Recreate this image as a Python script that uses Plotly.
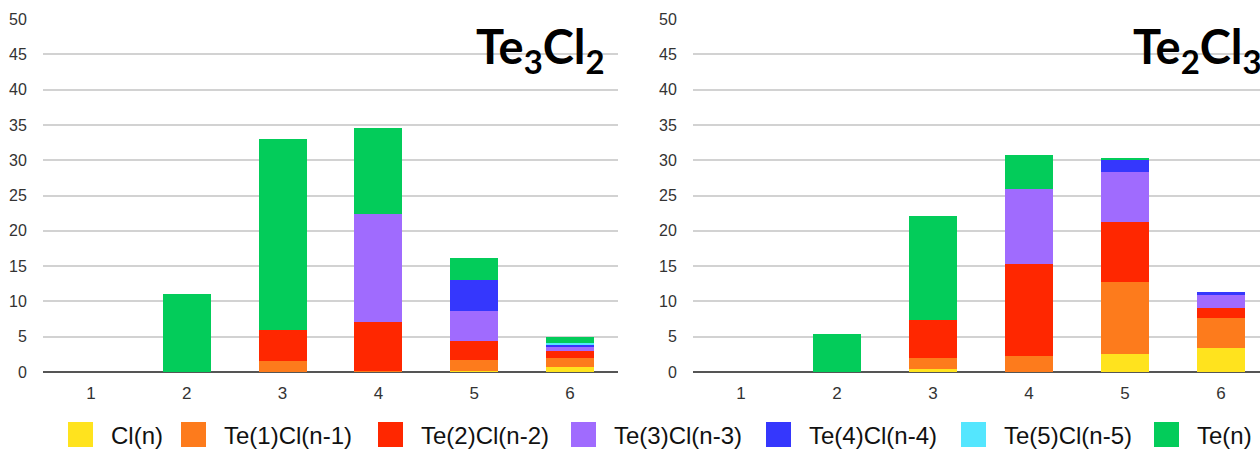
import plotly.graph_objects as go

# categories (cluster size n)
cats = [1, 2, 3, 4, 5, 6]

series_names = ["Cl(n)", "Te(1)Cl(n-1)", "Te(2)Cl(n-2)", "Te(3)Cl(n-3)",
                "Te(4)Cl(n-4)", "Te(5)Cl(n-5)", "Te(n)"]
colors = ["#FFE31E", "#FD7B1C", "#FF2700", "#A06BFE", "#3537FD", "#54E6FE", "#03CC5A"]

# Te3Cl2 (left panel)
left_cl = [0, 0, 0, 0, 0.2, 0.7]
left_te1 = [0, 0, 1.6, 0.2, 1.5, 1.25]
left_te2 = [0, 0, 4.4, 6.9, 2.7, 1.05]
left_te3 = [0, 0, 0, 15.25, 4.3, 0.6]
left_te4 = [0, 0, 0, 0, 4.4, 0.25]
left_te5 = [0, 0, 0, 0, 0, 0.25]
left_ten = [0, 11.0, 27.05, 12.2, 3.05, 0.9]

# Te2Cl3 (right panel)
right_cl = [0, 0, 0.45, 0, 2.5, 3.4]
right_te1 = [0, 0, 1.55, 2.2, 10.3, 4.2]
right_te2 = [0, 0, 5.3, 13.15, 8.5, 1.45]
right_te3 = [0, 0, 0, 10.6, 7.0, 1.8]
right_te4 = [0, 0, 0, 0, 1.8, 0.5]
right_te5 = [0, 0, 0, 0, 0, 0]
right_ten = [0, 5.45, 14.75, 4.75, 0.15, 0]

y_ticks = [0, 5, 10, 15, 20, 25, 30, 35, 40, 45, 50]

left = [left_cl, left_te1, left_te2, left_te3, left_te4, left_te5, left_ten]
right = [right_cl, right_te1, right_te2, right_te3, right_te4, right_te5, right_ten]

W, H = 1260, 450
ML, MR, MT, MB = 43, 0, 19, 78
PW = W - ML - MR


def px(x):
    # pixel x -> paper coordinate
    return (x - ML) / PW


def py(y):
    return (H - MB - y) / (H - MT - MB)


fig = go.Figure()
for name, col, vals in zip(series_names, colors, left):
    fig.add_trace(go.Bar(x=cats, y=vals, name=name, marker_color=col,
                         marker_line_width=0, width=0.5,
                         xaxis="x", yaxis="y", showlegend=False))
for name, col, vals in zip(series_names, colors, right):
    fig.add_trace(go.Bar(x=cats, y=vals, name=name, marker_color=col,
                         marker_line_width=0, width=0.5,
                         xaxis="x2", yaxis="y2", showlegend=False))

axis_font = dict(family="Liberation Sans, Arial, sans-serif", size=16, color="#333")
xcommon = dict(tickvals=cats, showgrid=False, zeroline=False, showline=False,
               ticks="outside", ticklen=6, tickcolor="rgba(0,0,0,0)",
               tickfont=dict(family="Liberation Sans, Arial, sans-serif", size=17, color="#333"),
               fixedrange=True)
ycommon = dict(range=[0, 50], tickvals=y_ticks, showgrid=True, gridcolor="#d2d2d2",
               gridwidth=2, zeroline=True, zerolinecolor="#555", zerolinewidth=2,
               showline=False, ticks="outside", ticklen=12, tickcolor="rgba(0,0,0,0)",
               tickfont=axis_font, fixedrange=True)

fig.update_layout(
    width=W, height=H,
    margin=dict(l=ML, r=MR, t=MT, b=MB),
    plot_bgcolor="white", paper_bgcolor="white",
    barmode="stack", bargap=0.5,
    xaxis=dict(domain=[0, px(618)], range=[0.5, 6.5], anchor="y", **xcommon),
    yaxis=dict(domain=[0, 1], anchor="x", **ycommon),
    xaxis2=dict(domain=[px(693), 1], range=[0.5, 0.5 + (W - 693) / 96], anchor="y2", **xcommon),
    yaxis2=dict(domain=[0, 1], anchor="x2", **ycommon),
)

# panel titles
title_font = dict(family="Lato, sans-serif", size=47, color="black", weight="bold")
fig.add_annotation(text="Te<sub>3</sub>Cl<sub>2</sub>", xref="paper", yref="paper",
                   x=px(607), y=py(16), xanchor="right", yanchor="top",
                   showarrow=False, font=title_font)
fig.add_annotation(text="Te<sub>2</sub>Cl<sub>3</sub>", xref="paper", yref="paper",
                   x=px(1264), y=py(16), xanchor="right", yanchor="top",
                   showarrow=False, font=title_font)

# legend drawn as swatches + labels
swatch_x = [68, 181, 378, 571, 766, 961, 1154]
legend_font = dict(family="Liberation Sans, Arial, sans-serif", size=24, color="#111")
for sx, name, col in zip(swatch_x, series_names, colors):
    fig.add_shape(type="rect", xref="paper", yref="paper",
                  x0=px(sx), x1=px(sx + 25), y0=py(447), y1=py(422),
                  fillcolor=col, line_width=0)
    fig.add_annotation(text=name, xref="paper", yref="paper",
                       x=px(sx + 41), y=py(435), xanchor="left", yanchor="middle",
                       showarrow=False, font=legend_font)

fig.write_html("out.html", config={"displayModeBar": False},
               post_script="document.body.style.margin='0';")
